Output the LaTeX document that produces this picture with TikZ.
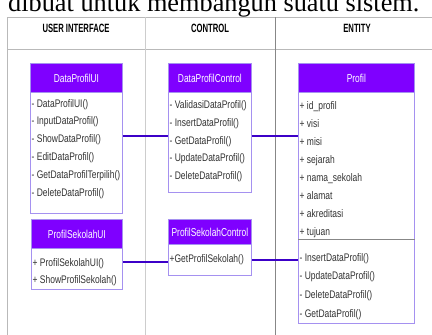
\documentclass[tikz,border=0pt]{standalone}
\usepackage{fontspec}
\setmainfont{Liberation Serif}
\newfontfamily\narrowsans[FakeStretch=0.77]{Liberation Sans}
\newfontfamily\hdrsans[FakeStretch=0.73]{Liberation Sans}
\newfontfamily\narrowbold[FakeStretch=0.64]{Liberation Sans Bold}
\definecolor{hdrviolet}{RGB}{127,0,255}
\definecolor{boxedge}{RGB}{165,145,240}
\definecolor{connblue}{RGB}{60,0,200}
\definecolor{itemgray}{RGB}{50,50,50}
\definecolor{gridlight}{RGB}{205,205,205}
\definecolor{gridmid}{RGB}{185,185,185}
\definecolor{griddark}{RGB}{135,135,135}
\tikzset{
  hdr/.style={fill=hdrviolet, draw=boxedge, line width=0.8pt, text=white,
    font=\hdrsans\fontsize{11.5}{13}\selectfont, anchor=north west, inner sep=0pt},
  body/.style={draw=boxedge, line width=0.8pt, fill=white, anchor=north west, inner sep=0pt},
  item/.style={anchor=base west, text=itemgray, font=\narrowsans\fontsize{11}{13}\selectfont, inner sep=0pt},
  conn/.style={draw=connblue, line width=1.8pt},
  colhead/.style={font=\narrowbold\fontsize{12}{14}\selectfont, inner sep=0pt},
}
\begin{document}
\begin{tikzpicture}[x=1pt,y=-1pt]
\useasboundingbox (0,0) rectangle (432,335);
\fill[white] (0,0) rectangle (432,335);
% cropped caption line
\node[anchor=base west, inner sep=0pt, font=\fontsize{26.3}{30}\selectfont] (caption) at (8,11.5) {dibuat untuk membangun suatu sistem.};
% table grid
\draw[gridmid, line width=0.8pt] (7.5,17) -- (440,17);
\draw[gridmid, line width=0.8pt] (7.5,49) -- (440,49);
\draw[gridmid, line width=0.8pt] (7.5,17) -- (7.5,340);
\draw[gridlight, line width=0.8pt] (145,17) -- (145,340);
\draw[griddark, line width=0.8pt] (275,17) -- (275,340);
\node[colhead] (hui) at (76,28.5) {USER INTERFACE};
\node[colhead] (hctl) at (210,28.5) {CONTROL};
\node[colhead] (hent) at (357,28.5) {ENTITY};
% DataProfilUI
\node[hdr, minimum width=92pt, minimum height=29pt] (uiAh) at (30,63) {DataProfilUI};
\node[body, minimum width=92pt, minimum height=121pt] (uiA) at (30,92) {};
\foreach \t [count=\i from 0] in {- DataProfilUI(), - InputDataProfil(), - ShowDataProfil(), - EditDataProfil(), - GetDataProfilTerpilih(), - DeleteDataProfil()}
  \node[item] at (31.5,107+17.9*\i) {\t};
% DataProfilControl
\node[hdr, minimum width=83pt, minimum height=29pt] (ctlAh) at (168,63) {DataProfilControl};
\node[body, minimum width=83pt, minimum height=100pt] (ctlA) at (168,92) {};
\foreach \t [count=\i from 0] in {- ValidasiDataProfil(), - InsertDataProfil(), - GetDataProfil(), - UpdateDataProfil(), - DeleteDataProfil()}
  \node[item] at (169.5,108.5+17.8*\i) {\t};
% Profil
\node[hdr, minimum width=116pt, minimum height=29pt] (entAh) at (298,63) {Profil};
\node[body, minimum width=116pt, minimum height=231pt] (entA) at (298,92) {};
\foreach \t [count=\i from 0] in {+ id\_profil, + visi, + misi, + sejarah, + nama\_sekolah, + alamat, + akreditasi, + tujuan}
  \node[item] at (299.5,109+18.1*\i) {\t};
\draw[griddark, line width=0.9pt] (entA.west |- 0,239) -- (entA.east |- 0,239);
\foreach \t [count=\i from 0] in {- InsertDataProfil(), - UpdateDataProfil(), - DeleteDataProfil(), - GetDataProfil()}
  \node[item] at (299.5,261+18.7*\i) {\t};
% ProfilSekolahUI
\node[hdr, minimum width=91pt, minimum height=29pt] (uiBh) at (31,219) {ProfilSekolahUI};
\node[body, minimum width=91pt, minimum height=41pt] (uiB) at (31,248) {};
\foreach \t [count=\i from 0] in {+ ProfilSekolahUI(), + ShowProfilSekolah()}
  \node[item] at (32.5,266+17*\i) {\t};
% ProfilSekolahControl
\node[hdr, minimum width=83pt, minimum height=25pt] (ctlBh) at (168,219) {ProfilSekolahControl};
\node[body, minimum width=83pt, minimum height=31pt] (ctlB) at (168,244) {};
\node[item] at (169.5,262) {+GetProfilSekolah()};
% connectors
\draw[conn] (uiA.east |- 0,136) -- (ctlA.west |- 0,136);
\draw[conn] (ctlA.east |- 0,136) -- (entA.west |- 0,136);
\draw[conn] (uiB.east |- 0,262) -- (ctlB.west |- 0,262);
\draw[conn] (ctlB.east |- 0,260) -- (entA.west |- 0,260);
\end{tikzpicture}
\end{document}
